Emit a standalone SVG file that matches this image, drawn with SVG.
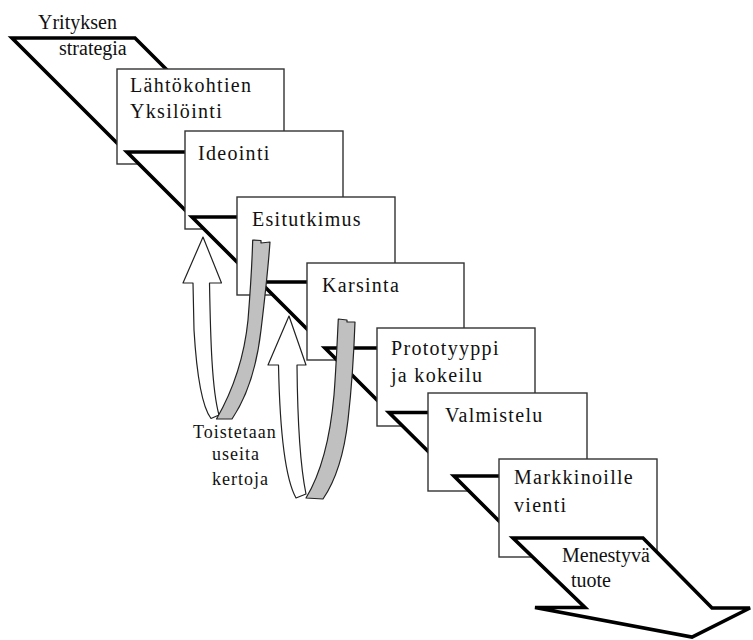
<svg xmlns="http://www.w3.org/2000/svg" width="753" height="640" viewBox="0 0 753 640">
  <style>
    .box { fill: #fff; stroke: #333; stroke-width: 1.4; }
    .band { fill: #fff; stroke: #000; stroke-width: 3.6; stroke-linejoin: miter; }
    text { font-family: "Liberation Serif", "DejaVu Serif", "Times New Roman", serif; fill: #111; }
    .lbl { font-size: 20px; letter-spacing: 1.3px; }
    .plain { font-size: 20px; }
    .note { font-size: 18px; letter-spacing: 1px; }
    .loop-w { fill: #fff; stroke: #222; stroke-width: 1.2; stroke-linejoin: round; }
    .loop-g { fill: #c0c0c0; stroke: #222; stroke-width: 1.2; stroke-linejoin: round; }
  </style>
  <rect width="753" height="640" fill="#fff"/>

  <!-- start of the process band -->
  <g id="strategy">
    <polygon class="band" points="12,38 135,38 245,148 122,148"/>
    <text class="plain" x="38" y="29" font-family="Liberation Serif, DejaVu Serif, serif">Yrityksen</text>
    <text class="plain" x="59" y="55" font-family="Liberation Serif, DejaVu Serif, serif">strategia</text>
  </g>

  <g id="step1">
    <rect class="box" x="117" y="69" width="167" height="95"/>
    <text class="lbl" x="130" y="92">Lähtökohtien</text>
    <text class="lbl" x="130" y="118">Yksilöinti</text>
    <polygon class="band" points="127,152 227,152 292,217 192,217"/>
  </g>

  <g id="step2">
    <rect class="box" x="185" y="131" width="158" height="98"/>
    <text class="lbl" x="198" y="160">Ideointi</text>
    <polygon class="band" points="192,217 292,217 357,282 257,282"/>
  </g>

  <g id="step3">
    <rect class="box" x="237" y="197" width="158" height="98"/>
    <text class="lbl" x="252" y="226">Esitutkimus</text>
    <polygon class="band" points="260,282 360,282 425,347 325,347"/>
  </g>

  <g id="step4">
    <rect class="box" x="307" y="263" width="157" height="97"/>
    <text class="lbl" x="322" y="292">Karsinta</text>
    <polygon class="band" points="325,348 425,348 490,413 390,413"/>
  </g>

  <g id="step5">
    <rect class="box" x="377" y="328" width="158" height="98"/>
    <text class="lbl" x="391" y="355">Prototyyppi</text>
    <text class="lbl" x="391" y="382">ja kokeilu</text>
    <polygon class="band" points="389,412.5 489,412.5 554,477 454,477"/>
  </g>

  <g id="step6">
    <rect class="box" x="428" y="393" width="159" height="98"/>
    <text class="lbl" x="445" y="422">Valmistelu</text>
    <polygon class="band" points="454,476 554,476 614,536 514,536"/>
  </g>

  <g id="step7">
    <rect class="box" x="499" y="459" width="158" height="98"/>
    <text class="lbl" x="514" y="484">Markkinoille</text>
    <text class="lbl" x="514" y="512">vienti</text>
  </g>

  <!-- arrow head at the end of the band -->
  <g id="result">
    <polygon class="band" points="513,538 643,538 712,608 750,608 692,637 535,607.5 585,607.5"/>
    <text class="plain" x="562" y="562">Menestyvä</text>
    <text class="plain" x="571" y="587">tuote</text>
  </g>

  <!-- feedback loops -->
  <g id="loops">
    <g id="loop1">
      <path class="loop-w" d="M203,237 L221.5,283 L209.5,283 C210.5,340 212,390 219,415 L211,418.5 C203,408 197,380 194,330 L193,283 L183,283 Z"/>
      <path class="loop-g" d="M216.5,419 C232,392 244,360 248,320 C250,295 252,265 252.7,240 L261,240.5 L261,243 L270,242 C268,270 264,305 261,330 C257,365 248,395 232,419 Z"/>
    </g>
    <g id="loop2">
      <path class="loop-w" d="M289,316 L306,365 L297,365 C297.5,420 300,465 306,494 L296,498 C286,480 280,440 278.5,365 L268,365 Z"/>
      <path class="loop-g" d="M306,498 C320,475 330,440 334,395 C336,370 337,345 338.3,319 L347,320 L347,322 L355,322 C354,350 352,385 348,420 C344,455 336,480 323,499 Z"/>
    </g>
  </g>

  <g id="repeat-note">
    <text class="note" x="193" y="438">Toistetaan</text>
    <text class="note" x="212" y="460">useita</text>
    <text class="note" x="212" y="485">kertoja</text>
  </g>
</svg>
